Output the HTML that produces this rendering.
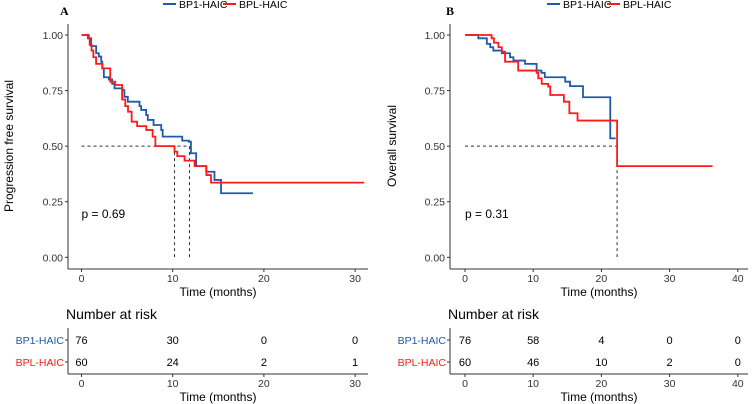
<!DOCTYPE html>
<html><head><meta charset="utf-8"><style>
html,body{margin:0;padding:0;background:#fff}
svg{display:block;font-family:"Liberation Sans",sans-serif}
</style></head><body>
<svg id="c" width="752" height="404" viewBox="0 0 752 404" xmlns="http://www.w3.org/2000/svg"></svg>
<script>
// Panel A data (time in months, survival probability)
const aBlueT=[0,0.8,1.06,1.61,1.9,2.16,2.27,2.45,3.0,3.36,3.62,4.5,4.7,5.08,6.36,6.54,7.09,7.27,7.9,8.74,8.9,11.04,11.77,12.0,12.57,13.67,14.58,15.3];
const aBlueS=[1,0.985,0.95,0.918,0.903,0.88,0.85,0.81,0.80,0.78,0.76,0.752,0.722,0.70,0.68,0.663,0.64,0.618,0.595,0.573,0.543,0.525,0.52,0.468,0.41,0.385,0.348,0.288];
const aBlueEnd=18.8;
const aRedT=[0,0.7,0.9,1.1,1.3,1.6,2.3,3.15,3.7,4.45,4.8,5.1,5.5,6.1,7.1,7.8,8.1,10.2,10.5,11.3,12.4,13.7,14.2];
const aRedS=[1,0.985,0.955,0.93,0.90,0.87,0.85,0.79,0.775,0.71,0.68,0.655,0.61,0.59,0.573,0.543,0.50,0.475,0.455,0.435,0.41,0.37,0.336];
const aRedEnd=31;
const aMedians=[10.2,11.84];
// Panel B data
const bBlueT=[0,1.95,3.2,3.7,4.15,5.4,6.6,7.1,8.8,10.5,11.2,11.7,14.7,15.4,17.3,21.3];
const bBlueS=[1,0.985,0.96,0.945,0.93,0.918,0.90,0.885,0.87,0.84,0.83,0.81,0.79,0.77,0.72,0.535];
const bBlueEnd=22.1;
const bRedT=[0,3.9,4.25,4.9,5.4,5.87,7.8,10.5,10.75,11.25,12.2,12.5,14.5,15.3,16.5,22.3];
const bRedS=[1,0.985,0.965,0.945,0.925,0.88,0.84,0.83,0.805,0.78,0.768,0.73,0.70,0.648,0.615,0.41];
const bRedEnd=36.3;
const bMedians=[22.3];
const yTicks=["0.00","0.25","0.50","0.75","1.00"];
const aXTicks=[0,10,20,30];
const bXTicks=[0,10,20,30,40];
const aRiskBlue=[76,30,0,0], aRiskRed=[60,24,2,1];
const bRiskBlue=[76,58,4,0,0], bRiskRed=[60,46,10,2,0];
const pvals=["p = 0.69","p = 0.31"];

const BLUE="#1f5aa6", RED="#ff1a1a";
const svg=document.getElementById('c');
const NS="http://www.w3.org/2000/svg";
function el(tag,attrs,parent){const e=document.createElementNS(NS,tag);for(const k in attrs)e.setAttribute(k,attrs[k]);(parent||svg).appendChild(e);return e;}
function txt(s,attrs,parent){const e=el('text',attrs,parent);e.textContent=s;return e;}

function panel(o){
  const g=el('g',{});
  
  
  const xs=t=>o.x0+t*o.px;
  const ys=s=>257.3-222.3*s;
  const L=txt(o.letter,{x:o.letterX,y:15,'font-family':'Liberation Serif, serif','font-weight':'bold','font-size':12},g);
  
  const lg=el('g',{},g);
  el('line',{x1:o.legX,y1:4,x2:o.legX+13,y2:4,stroke:BLUE,'stroke-width':2},lg);
  const t1=txt('BP1-HAIC',{x:o.legX+16,y:8,'font-size':10.5},lg);
  el('line',{x1:o.legX+60,y1:4,x2:o.legX+73,y2:4,stroke:RED,'stroke-width':2},lg);
  const t2=txt('BPL-HAIC',{x:o.legX+76,y:8,'font-size':10.5},lg);
  const ax=o.axisX;
  const ya=el('line',{x1:ax,y1:24,x2:ax,y2:269,stroke:'#333','stroke-width':1},g);
  
  const xa=el('line',{x1:ax,y1:269,x2:o.axisEnd,y2:269,stroke:'#333','stroke-width':1},g);
  
  yTicks.forEach(v=>{const y=ys(parseFloat(v));
    el('line',{x1:ax-3,y1:y,x2:ax,y2:y,stroke:'#333'},g);
    const t=txt(v,{x:ax-5,y:y+4,'font-size':10.5,'text-anchor':'end',fill:'#333'},g);
    });
  o.xt.forEach(v=>{const x=xs(v);
    el('line',{x1:x,y1:269,x2:x,y2:272,stroke:'#333'},g);
    const t=txt(String(v),{x:x,y:282,'font-size':10.5,'text-anchor':'middle',fill:'#333'},g);
    });
  const xt=txt('Time (months)',{x:(ax+o.axisEnd)/2,y:296,'font-size':12,'text-anchor':'middle'},g);
  
  const yt=txt(o.ylab,{x:0,y:0,'font-size':12,'text-anchor':'middle',transform:`translate(${o.ylabX},146) rotate(-90)`},g);
  
  const mx=Math.max(...o.med);
  const ml=el('line',{x1:xs(0),y1:ys(0.5),x2:xs(mx),y2:ys(0.5),stroke:'#333','stroke-dasharray':'3,3','stroke-width':1},g);
  
  o.med.forEach(m=>{const l=el('line',{x1:xs(m),y1:ys(0.5),x2:xs(m),y2:ys(0),stroke:'#333','stroke-dasharray':'3,3','stroke-width':1},g);
    });
  function curve(T,S,end,col,name){
    let d=`M${xs(T[0])},${ys(S[0])}`;
    for(let i=1;i<T.length;i++){d+=` H${xs(T[i])} V${ys(S[i])}`;}
    d+=` H${xs(end)}`;
    const p=el('path',{d:d,fill:'none',stroke:col,'stroke-width':1.8},g);
    
  }
  curve(o.bT,o.bS,o.bE,BLUE,'curve-bp1-haic');
  curve(o.rT,o.rS,o.rE,RED,'curve-bpl-haic');
  const pv=txt(o.p,{x:xs(0),y:218,'font-size':12},g);
  
  const nr=txt('Number at risk',{x:ax-2,y:319,'font-size':14},g);
  
  el('line',{x1:ax,y1:328,x2:ax,y2:374,stroke:'#333'},g);
  el('line',{x1:ax,y1:374,x2:o.axisEnd,y2:374,stroke:'#333'},g);
  [[ 'BP1-HAIC',BLUE,340,o.rb],['BPL-HAIC',RED,362,o.rr]].forEach(([n,c,y,arr])=>{
    el('line',{x1:ax-3,y1:y,x2:ax,y2:y,stroke:'#333'},g);
    const lt=txt(n,{x:ax-4,y:y+4,'font-size':10.5,'text-anchor':'end',fill:c},g);
    
    arr.forEach((v,i)=>{const t=txt(String(v),{x:xs(o.xt[i]),y:y+4,'font-size':11,'text-anchor':'middle'},g);
      });
  });
  o.xt.forEach(v=>{const x=xs(v);
    el('line',{x1:x,y1:374,x2:x,y2:377,stroke:'#333'},g);
    const t=txt(String(v),{x:x,y:387,'font-size':10.5,'text-anchor':'middle',fill:'#333'},g);
    });
  const xt2=txt('Time (months)',{x:(ax+o.axisEnd)/2,y:401,'font-size':12,'text-anchor':'middle'},g);
  
}
panel({name:'panel-a-pfs',letter:'A',letterX:60,legX:163,x0:81.5,px:9.12,axisX:68,axisEnd:368,ylab:'Progression free survival',ylabX:13,
  xt:aXTicks,bT:aBlueT,bS:aBlueS,bE:aBlueEnd,rT:aRedT,rS:aRedS,rE:aRedEnd,med:aMedians,p:pvals[0],rb:aRiskBlue,rr:aRiskRed});
panel({name:'panel-b-os',letter:'B',letterX:446,legX:547,x0:465,px:6.82,axisX:450,axisEnd:748,ylab:'Overall survival',ylabX:396,
  xt:bXTicks,bT:bBlueT,bS:bBlueS,bE:bBlueEnd,rT:bRedT,rS:bRedS,rE:bRedEnd,med:bMedians,p:pvals[1],rb:bRiskBlue,rr:bRiskRed});
</script>
</body></html>
